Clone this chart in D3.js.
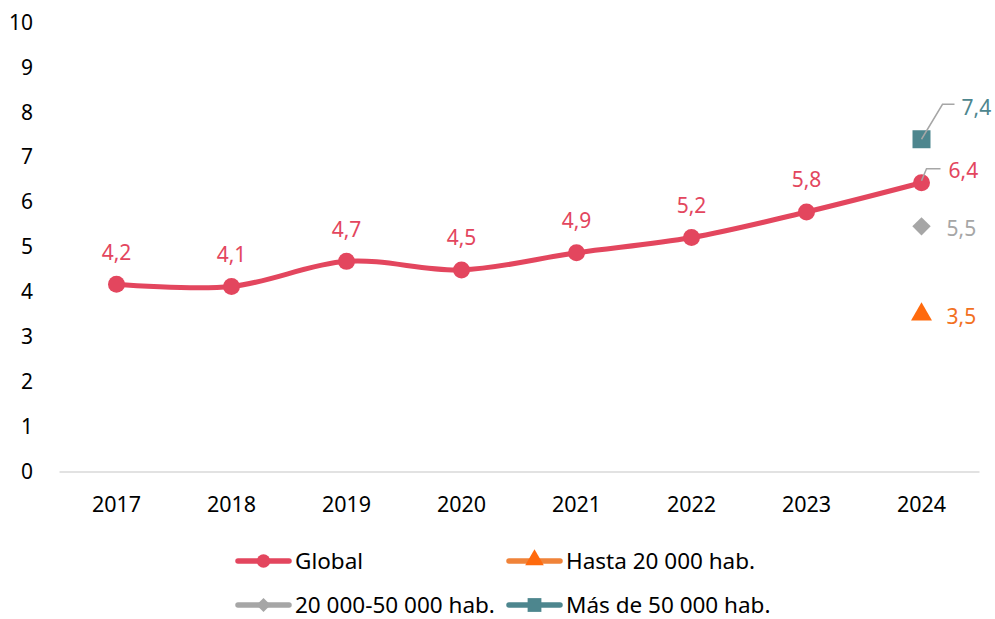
<!DOCTYPE html>
<html>
<head>
<meta charset="utf-8">
<script src="https://cdn.jsdelivr.net/npm/d3@7"></script>
<style>
    body { margin: 0; background: #fff; }
    svg text { font-family: "Noto Sans", "Open Sans", sans-serif; }
</style>
</head>
<body>
<div id="lineChart"></div>
<script>
// data
var years = ['2017', '2018', '2019', '2020', '2021', '2022', '2023', '2024'];
var globalValues = [4.17, 4.12, 4.68, 4.49, 4.87, 5.21, 5.78, 6.43];
var segmentNames = ['Hasta 20 000 hab.', '20 000-50 000 hab.', 'Más de 50 000 hab.'];
var segmentValues = [3.5, 5.46, 7.4];
var segmentYear = '2024';
var yTicks = [0, 1, 2, 3, 4, 5, 6, 7, 8, 9, 10];
var legendNames = ['Global', 'Hasta 20 000 hab.', '20 000-50 000 hab.', 'Más de 50 000 hab.'];

var RED = '#e3465e', ORANGE = '#ff6a0d', ORANGE_LINE = '#f08339', GREY = '#a6a6a6', TEAL = '#4d868e';

var fmt = function (v) { return d3.format('.1f')(v).replace('.', ','); };

/**
 * Constructor for the line chart
 */
function LineChart() {
    var self = this;
    self.init();
}

LineChart.prototype.init = function () {
    var self = this;
    self.svgWidth = 995;
    self.svgHeight = 619;

    self.svg = d3.select('#lineChart').append('svg')
        .attr('width', self.svgWidth)
        .attr('height', self.svgHeight);

    self.xScale = d3.scaleBand().domain(years).range([59, 979]);
    self.yScale = d3.scaleLinear().domain([0, 10]).range([471.5, 22.5]);
};

LineChart.prototype.update = function () {
    var self = this;
    var x = function (d) { return self.xScale(d) + self.xScale.bandwidth() / 2; };
    var y = self.yScale;

    // y axis, labels only
    var yAxis = d3.axisLeft(y).tickValues(yTicks).tickSize(0).tickPadding(0)
        .tickFormat(function (d) { return d; });
    var yAxisGroup = self.svg.append('g').attr('transform', 'translate(33,0)').call(yAxis);
    yAxisGroup.select('.domain').remove();
    yAxisGroup.selectAll('text').attr('font-size', 21).attr('fill', '#000')
        .style('font-family', '"Noto Sans", sans-serif');

    // x axis
    var xAxis = d3.axisBottom(self.xScale).tickSize(0).tickPadding(25);
    var xAxisGroup = self.svg.append('g').attr('transform', 'translate(0,' + y(0) + ')').call(xAxis);
    xAxisGroup.select('.domain').attr('stroke', '#d9d9d9').attr('stroke-width', 1.5);
    xAxisGroup.selectAll('text').attr('font-size', 21.5).attr('fill', '#000')
        .style('font-family', '"Noto Sans", sans-serif');

    // global line
    var points = years.map(function (yr, i) { return [x(yr), y(globalValues[i])]; });
    var line = d3.line().curve(d3.curveCardinal.tension(0));
    self.svg.append('path')
        .attr('d', line(points))
        .attr('fill', 'none')
        .attr('stroke', RED)
        .attr('stroke-width', 5)
        .attr('stroke-linecap', 'round');

    self.svg.append('g').selectAll('circle').data(points).enter().append('circle')
        .attr('cx', function (d) { return d[0]; })
        .attr('cy', function (d) { return d[1]; })
        .attr('r', 8.5)
        .attr('fill', RED);

    // global labels (last one uses a leader line)
    self.svg.append('g').selectAll('text').data(globalValues.slice(0, -1)).enter().append('text')
        .attr('x', function (d, i) { return x(years[i]); })
        .attr('y', function (d) { return y(d) - 32; })
        .attr('dy', '0.35em')
        .attr('text-anchor', 'middle')
        .attr('font-size', 21)
        .attr('fill', RED)
        .text(fmt);

    var lastX = x(years[years.length - 1]);
    var lastY = y(globalValues[globalValues.length - 1]);
    self.svg.append('path')
        .attr('d', 'M' + lastX + ',' + (lastY - 2) + 'L' + (lastX + 5) + ',' + (lastY - 14) + 'H' + (lastX + 19))
        .attr('fill', 'none').attr('stroke', GREY).attr('stroke-width', 1.5);
    self.svg.append('text')
        .attr('x', lastX + 27).attr('y', lastY - 12).attr('dy', '0.35em')
        .attr('font-size', 21).attr('fill', RED)
        .text(fmt(globalValues[globalValues.length - 1]));

    // 2024 segment points
    var sx = x(segmentYear);
    var symbols = [d3.symbolTriangle, d3.symbolDiamond, d3.symbolSquare];
    var fills = [ORANGE, GREY, TEAL];
    var sizes = [190, 200, 324];
    segmentValues.forEach(function (v, i) {
        var g = self.svg.append('g').attr('transform', 'translate(' + sx + ',' + y(v) + ')');
        if (i === 1) {
            g.append('rect').attr('x', -6.5).attr('y', -6.5).attr('width', 13).attr('height', 13)
                .attr('transform', 'rotate(45)').attr('fill', fills[i]);
        } else {
            g.append('path').attr('d', d3.symbol().type(symbols[i]).size(sizes[i])()).attr('fill', fills[i]);
        }
    });

    // segment labels
    var textFills = ['#f2711f', GREY, TEAL];
    [0, 1].forEach(function (i) {
        self.svg.append('text')
            .attr('x', sx + 25).attr('y', y(segmentValues[i]) + 2).attr('dy', '0.35em')
            .attr('font-size', 21).attr('fill', textFills[i])
            .text(fmt(segmentValues[i]));
    });
    var topY = y(segmentValues[2]);
    self.svg.append('path')
        .attr('d', 'M' + sx + ',' + topY + 'L' + (sx + 21) + ',' + (topY - 35) + 'H' + (sx + 33))
        .attr('fill', 'none').attr('stroke', GREY).attr('stroke-width', 1.5);
    self.svg.append('text')
        .attr('x', sx + 40).attr('y', topY - 32).attr('dy', '0.35em')
        .attr('font-size', 21).attr('fill', TEAL)
        .text(fmt(segmentValues[2]));

    // legend
    var legendX = [235, 506];
    var legendY = [561, 605];
    var lineColors = [RED, ORANGE_LINE, GREY, TEAL];
    var markColors = [RED, ORANGE, GREY, TEAL];
    var legendSymbols = [d3.symbolCircle, d3.symbolTriangle, d3.symbolDiamond, d3.symbolSquare];
    var legendSizes = [140, 150, 130, 190];
    legendNames.forEach(function (name, i) {
        var lx = legendX[i % 2], ly = legendY[Math.floor(i / 2)];
        var g = self.svg.append('g').attr('transform', 'translate(' + lx + ',' + ly + ')');
        g.append('line').attr('x1', 3).attr('x2', 54).attr('y1', 0).attr('y2', 0)
            .attr('stroke', lineColors[i]).attr('stroke-width', 5.5).attr('stroke-linecap', 'round');
        if (i === 2) {
            g.append('rect').attr('x', -5).attr('y', -5).attr('width', 10).attr('height', 10)
                .attr('transform', 'translate(28.5,0) rotate(45)').attr('fill', markColors[i]);
        } else {
            g.append('path').attr('transform', 'translate(28.5,' + (i === 1 ? -1 : 0) + ')')
                .attr('d', d3.symbol().type(legendSymbols[i]).size(legendSizes[i])())
                .attr('fill', markColors[i]);
        }
        g.append('text').attr('x', 60).attr('y', 0).attr('dy', '0.35em')
            .attr('font-size', 22.5).attr('fill', '#000').text(name);
    });
};

var chart = new LineChart();
chart.update();
</script>
</body>
</html>
